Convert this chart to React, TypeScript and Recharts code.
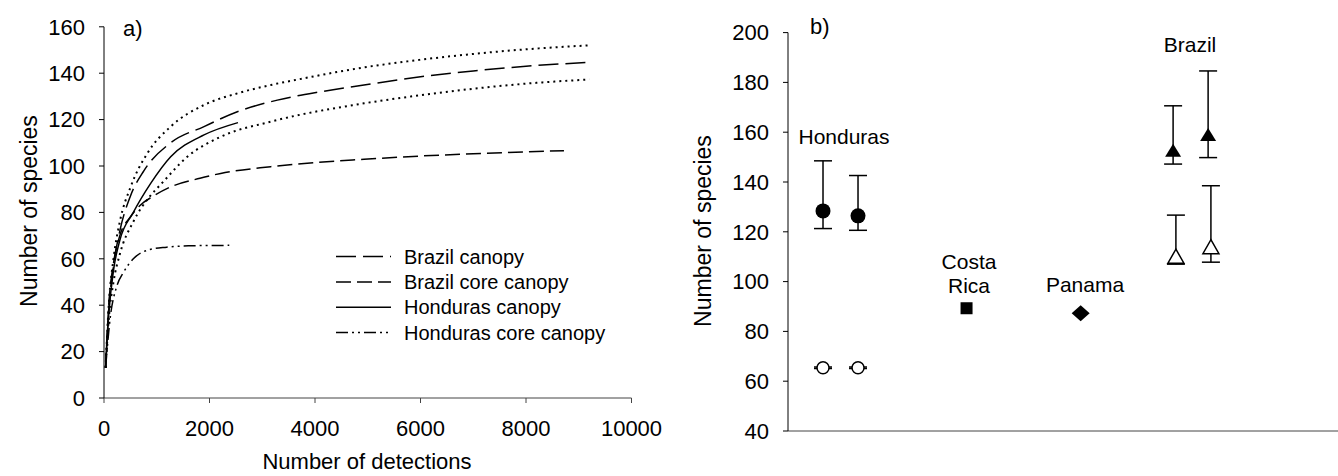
import { ErrorBar, Line, LineChart, Scatter, ScatterChart, XAxis, YAxis } from "recharts";

const FONT = '"Liberation Sans", Arial, sans-serif';

// a) rarefaction curves (detections -> species)
const brazilCanopyDet = [30, 90, 180, 300, 500, 758, 1264, 1896, 2527, 3286, 4108, 4929, 6000, 7000, 8000, 9200];
const brazilCanopySp = [13, 38, 57, 72, 87, 98, 110, 117, 123.4, 128.4, 132, 134.9, 138.5, 141, 143, 144.7];

const upperCiDet = [30, 90, 180, 300, 505, 822, 1264, 1896, 2527, 3160, 3791, 4929, 6000, 7000, 8000, 9200];
const upperCiSp = [13, 40, 60, 76, 91, 105.5, 117, 126.3, 131.3, 134.9, 137.8, 142.5, 145.8, 148.3, 150.3, 152];

const lowerCiDet = [30, 90, 180, 300, 556, 872, 1074, 1580, 2212, 3160, 4929, 6000, 7000, 8000, 9200];
const lowerCiSp = [13, 34, 50, 62, 76, 87, 92, 104, 112.6, 119.1, 127, 130.5, 133.3, 135.5, 137.3];

const brazilCoreDet = [30, 90, 180, 300, 500, 682, 935, 1264, 1820, 2212, 3160, 4929, 6000, 7000, 8720];
const brazilCoreSp = [13, 40, 58, 70, 78, 83, 87, 91, 94.7, 96.8, 99.7, 102.9, 104.3, 105.3, 106.6];

const hondurasCanopyDet = [30, 90, 180, 300, 556, 885, 1264, 1896, 2540];
const hondurasCanopySp = [13, 36, 55, 68, 80, 92.5, 104, 113.4, 118.7];

const hondurasCoreDet = [30, 120, 240, 366, 556, 872, 1188, 1600, 2375];
const hondurasCoreSp = [13, 35, 48, 54, 60, 64, 65, 65.6, 65.8];

const detTicks = [0, 2000, 4000, 6000, 8000, 10000];
const spTicksA = [0, 20, 40, 60, 80, 100, 120, 140, 160];

// b) species per site (x = slot along the axis)
const hondurasX = [1, 2];
const hondurasSp = [128.4, 126.4];
const hondurasLo = [121.3, 120.6];
const hondurasHi = [148.5, 142.6];

const hondurasCoreX = [1, 2];
const hondurasCoreSpB = [65.4, 65.4];
const hondurasCoreLo = [65.1, 65.1];
const hondurasCoreHi = [65.7, 65.7];

const costaRicaX = [5.1];
const costaRicaSp = [89.3];

const panamaX = [8.36];
const panamaSp = [87.3];

const brazilX = [11.0, 12.0];
const brazilSp = [152.6, 158.9];
const brazilLo = [147.2, 149.8];
const brazilHi = [170.6, 184.6];

const brazilCoreX = [11.08, 12.08];
const brazilCoreSpB = [109.8, 113.6];
const brazilCoreLo = [107, 107.8];
const brazilCoreHi = [126.7, 138.5];

const spTicksB = [40, 60, 80, 100, 120, 140, 160, 180, 200];

const toCurve = (d: number[], s: number[]) => d.map((x, i) => ({ d: x, s: s[i] }));
const toSites = (x: number[], y: number[], lo?: number[], hi?: number[]) =>
  x.map((v, i) => ({ x: v, y: y[i], err: lo && hi ? [y[i] - lo[i], hi[i] - y[i]] : [0, 0] }));

const curves = [
  { name: "Brazil canopy", data: toCurve(brazilCanopyDet, brazilCanopySp), dash: "20 7", width: 1.5, legend: true },
  { name: "Brazil core canopy", data: toCurve(brazilCoreDet, brazilCoreSp), dash: "15 6", width: 1.5, legend: true },
  { name: "Honduras canopy", data: toCurve(hondurasCanopyDet, hondurasCanopySp), dash: undefined, width: 1.5, legend: true },
  { name: "Honduras core canopy", data: toCurve(hondurasCoreDet, hondurasCoreSp), dash: "12 4 2 4 2 4", width: 1.5, legend: true },
  { name: "upper", data: toCurve(upperCiDet, upperCiSp), dash: "2 4", width: 2, legend: false },
  { name: "lower", data: toCurve(lowerCiDet, lowerCiSp), dash: "2 4", width: 2, legend: false },
];

const tickStyle = { fill: "#000", fontSize: 22, fontFamily: FONT };

const filledCircle = (p: any) => <circle cx={p.cx} cy={p.cy} r={7.5} fill="#000" />;
const openCircle = (p: any) => <circle cx={p.cx} cy={p.cy} r={6} fill="#fff" stroke="#000" strokeWidth={1.5} />;
const square = (p: any) => <rect x={p.cx - 6} y={p.cy - 6} width={12} height={12} fill="#000" />;
const diamond = (p: any) => (
  <polygon points={`${p.cx},${p.cy - 8} ${p.cx + 9},${p.cy} ${p.cx},${p.cy + 8} ${p.cx - 9},${p.cy}`} fill="#000" />
);
const filledTri = (p: any) => (
  <polygon points={`${p.cx},${p.cy - 7} ${p.cx + 8},${p.cy + 6} ${p.cx - 8},${p.cy + 6}`} fill="#000" />
);
const openTri = (p: any) => (
  <polygon
    points={`${p.cx},${p.cy - 8} ${p.cx + 8},${p.cy + 6} ${p.cx - 8},${p.cy + 6}`}
    fill="#fff"
    stroke="#000"
    strokeWidth={1.5}
  />
);

const sites = [
  { key: "hon", data: toSites(hondurasX, hondurasSp, hondurasLo, hondurasHi), shape: filledCircle, err: true },
  { key: "honCore", data: toSites(hondurasCoreX, hondurasCoreSpB, hondurasCoreLo, hondurasCoreHi), shape: openCircle, err: true },
  { key: "cr", data: toSites(costaRicaX, costaRicaSp), shape: square, err: false },
  { key: "pan", data: toSites(panamaX, panamaSp), shape: diamond, err: false },
  { key: "bra", data: toSites(brazilX, brazilSp, brazilLo, brazilHi), shape: filledTri, err: true },
  { key: "braCore", data: toSites(brazilCoreX, brazilCoreSpB, brazilCoreLo, brazilCoreHi), shape: openTri, err: true },
];

export default function App() {
  return (
    <div style={{ position: "absolute", left: 0, top: 0, width: 1338, height: 476, background: "#fff", fontFamily: FONT }}>
      <div style={{ position: "absolute", left: 0, top: 0 }}>
        <LineChart width={680} height={476} margin={{ top: 26.8, right: 48.5, bottom: 38, left: 44 }}>
          <XAxis
            dataKey="d"
            type="number"
            domain={[0, 10000]}
            ticks={detTicks}
            height={40}
            tick={tickStyle}
            tickSize={5}
            tickMargin={17}
            stroke="#444"
            allowDataOverflow
          />
          <YAxis
            dataKey="s"
            type="number"
            domain={[0, 160]}
            ticks={spTicksA}
            width={60}
            tick={tickStyle}
            tickSize={5}
            tickMargin={14}
            stroke="#000"
          />
          {curves.map((c) => (
            <Line
              key={c.name}
              data={c.data}
              dataKey="s"
              type="monotone"
              stroke="#000"
              strokeWidth={c.width}
              strokeDasharray={c.dash}
              dot={false}
              activeDot={false}
              isAnimationActive={false}
            />
          ))}
        </LineChart>
      </div>

      <div style={{ position: "absolute", left: 670, top: 0 }}>
        <ScatterChart width={668} height={476} margin={{ top: 32.6, right: 0, bottom: 35, left: 58 }}>
          <XAxis dataKey="x" type="number" domain={[0, 15.71]} tick={false} tickLine={false} height={10} stroke="#444" />
          <YAxis
            dataKey="y"
            type="number"
            domain={[40, 200]}
            ticks={spTicksB}
            width={60}
            tick={tickStyle}
            tickSize={5}
            tickMargin={14}
            stroke="#000"
          />
          {sites.map((s) => (
            <Scatter key={s.key} data={s.data} shape={s.shape} isAnimationActive={false}>
              {s.err && (
                <ErrorBar dataKey="err" direction="y" width={9} stroke="#000" strokeWidth={1.5} isAnimationActive={false} />
              )}
            </Scatter>
          ))}
        </ScatterChart>
      </div>

      <svg
        width={1338}
        height={476}
        style={{ position: "absolute", left: 0, top: 0, pointerEvents: "none" }}
        fontFamily={FONT}
        fill="#000"
      >
        <text x={123} y={36} fontSize={22}>a)</text>
        <text x={810} y={34} fontSize={22}>b)</text>
        <text x={29} y={211} fontSize={23} textAnchor="middle" dominantBaseline="central" transform="rotate(-90 29 211)">
          Number of species
        </text>
        <text x={703} y={231} fontSize={23} textAnchor="middle" dominantBaseline="central" transform="rotate(-90 703 231)">
          Number of species
        </text>
        <text x={367} y={469} fontSize={22} textAnchor="middle">Number of detections</text>

        {curves
          .filter((c) => c.legend)
          .map((c, i) => (
            <g key={c.name}>
              <line
                x1={336}
                x2={391}
                y1={256.6 + i * 25.3}
                y2={256.6 + i * 25.3}
                stroke="#000"
                strokeWidth={c.width}
                strokeDasharray={c.dash}
              />
              <text x={404} y={263.8 + i * 25.3} fontSize={20}>{c.name}</text>
            </g>
          ))}

        <text x={844} y={144} fontSize={21} textAnchor="middle">Honduras</text>
        <text x={969} y={269} fontSize={21} textAnchor="middle">Costa</text>
        <text x={969} y={293} fontSize={21} textAnchor="middle">Rica</text>
        <text x={1085} y={291.5} fontSize={21} textAnchor="middle">Panama</text>
        <text x={1190} y={51.5} fontSize={21} textAnchor="middle">Brazil</text>
      </svg>
    </div>
  );
}
